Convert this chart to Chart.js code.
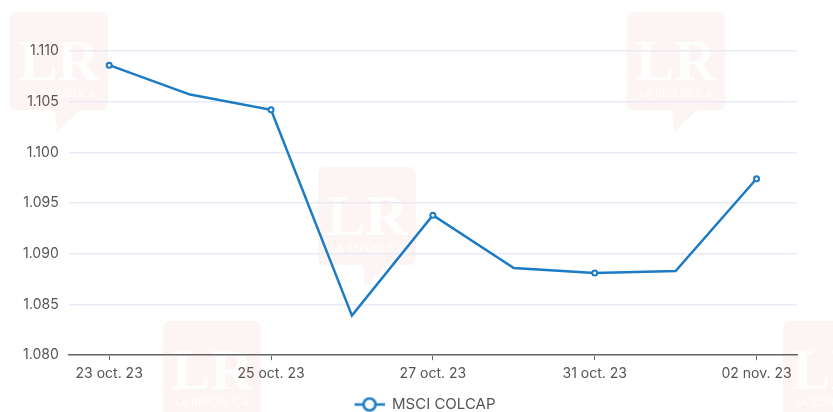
<!DOCTYPE html>
<html>
<head>
<meta charset="utf-8">
<script src="https://cdn.jsdelivr.net/npm/chart.js@4"></script>
<style>
  html, body { margin: 0; padding: 0; background: #fff; }
  #wrap { width: 833px; height: 412px; }
</style>
</head>
<body>
<div id="wrap"><canvas id="chart" width="833" height="412"></canvas></div>
<script>
// Data
const dates = ['23 oct. 23', '24 oct. 23', '25 oct. 23', '26 oct. 23', '27 oct. 23',
               '30 oct. 23', '31 oct. 23', '01 nov. 23', '02 nov. 23'];
const colcap = [1108.6, 1105.7, 1104.2, 1083.9, 1093.8, 1088.6, 1088.1, 1088.3, 1097.4];
const seriesName = 'MSCI COLCAP';
const yTicks = [1080, 1085, 1090, 1095, 1100, 1105, 1110];

const blue = '#1b7bc4';
const textFont = { family: 'Inter', size: 14 };

// thousands with a dot, like the source
function fmt(v) {
    return String(Math.round(v)).replace(/\B(?=(\d{3})+(?!\d))/g, '.');
}

// legend marker: a short line with an open circle (left part left empty to shift it right)
function legendMarker() {
    const c = document.createElement('canvas');
    c.width = 70; c.height = 16;
    const g = c.getContext('2d');
    g.strokeStyle = blue;
    g.lineWidth = 2.5;
    g.beginPath(); g.moveTo(40, 8); g.lineTo(70, 8); g.stroke();
    g.fillStyle = '#fff';
    g.beginPath(); g.arc(55, 8, 6, 0, Math.PI * 2); g.fill(); g.stroke();
    return c;
}

// faint "LR" watermarks behind the chart
const watermarks = [[10, 12], [627, 12], [318, 167], [163, 321], [783, 321]];
const watermarkPlugin = {
    id: 'watermarks',
    beforeDraw(chart) {
        const ctx = chart.ctx;
        ctx.save();
        watermarks.forEach(([x, y]) => {
            ctx.fillStyle = 'rgba(225, 110, 90, 0.07)';
            ctx.beginPath();
            ctx.roundRect(x, y, 98, 98, 6);
            ctx.fill();
            ctx.beginPath();
            ctx.moveTo(x + 45, y + 98); ctx.lineTo(x + 70, y + 98); ctx.lineTo(x + 47, y + 120);
            ctx.fill();
            ctx.fillStyle = 'rgba(255, 255, 255, 0.9)';
            ctx.font = 'bold 58px "Liberation Serif"';
            ctx.textAlign = 'center';
            ctx.textBaseline = 'alphabetic';
            ctx.fillText('LR', x + 49, y + 68);
            ctx.font = '11px "Open Sans"';
            ctx.fillText('LA REPÚBLICA', x + 49, y + 85);
        });
        ctx.restore();
    }
};

new Chart(document.getElementById('chart'), {
    type: 'line',
    data: {
        labels: dates,
        datasets: [{
            label: seriesName,
            data: colcap,
            borderColor: blue,
            backgroundColor: '#fff',
            borderWidth: 2.5,
            tension: 0,
            pointRadius: ctx => (ctx.dataIndex % 2 === 0 ? 2.5 : 0),
            pointBorderWidth: 2,
            pointBackgroundColor: '#fff',
            pointBorderColor: blue,
            pointHoverRadius: 4
        }]
    },
    options: {
        responsive: false,
        animation: false,
        layout: { padding: { top: 51, right: 36, left: 13, bottom: -10 } },
        plugins: {
            tooltip: { enabled: false },
            legend: {
                position: 'bottom',
                labels: {
                    color: '#555',
                    font: { family: 'Inter', size: 15 },
                    usePointStyle: true,
                    pointStyleWidth: 70,
                    boxHeight: 14,
                    padding: 0,
                    generateLabels: chart => [{
                        text: seriesName,
                        pointStyle: legendMarker(),
                        fontColor: '#555',
                        hidden: false,
                        datasetIndex: 0
                    }]
                }
            }
        },
        scales: {
            x: {
                offset: true,
                afterFit: axis => { axis.height += 10; },
                grid: {
                    display: true,
                    drawOnChartArea: false,
                    drawTicks: true,
                    tickLength: 5,
                    color: ctx => (ctx.index % 2 === 0 ? '#666' : 'rgba(0,0,0,0)')
                },
                border: { color: '#666', width: 1.5 },
                ticks: {
                    autoSkip: false,
                    maxRotation: 0,
                    color: '#555',
                    font: textFont,
                    padding: 5,
                    callback: (v, i) => (i % 2 === 0 ? dates[i] : '')
                }
            },
            y: {
                min: yTicks[0],
                max: yTicks[yTicks.length - 1],
                afterBuildTicks: axis => { axis.ticks = yTicks.map(v => ({ value: v })); },
                grid: { color: '#e8ebf5', lineWidth: 1.5, drawTicks: false },
                border: { display: false },
                ticks: {
                    color: '#555',
                    font: textFont,
                    padding: 10,
                    callback: v => fmt(v)
                }
            }
        }
    },
    plugins: [watermarkPlugin]
});
</script>
</body>
</html>
